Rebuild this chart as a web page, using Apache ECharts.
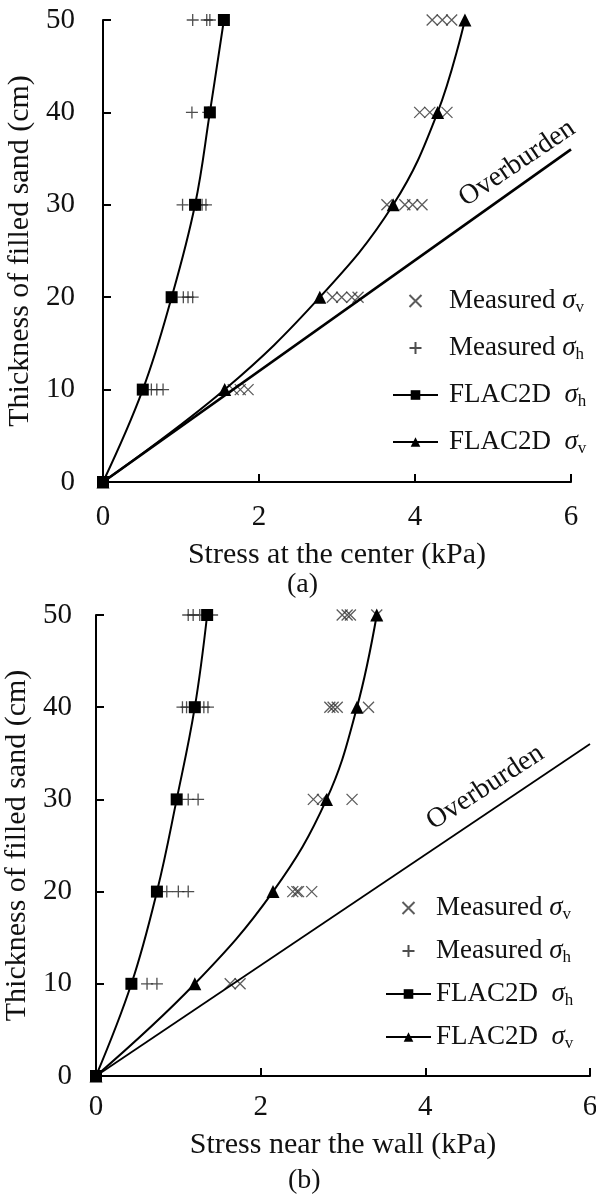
<html>
  <head>
    <meta charset="utf-8" />
    <script src="https://cdn.jsdelivr.net/npm/echarts@6/dist/echarts.min.js"></script>
  </head>
  <body>
    <style>
      html,
      body,
      #main {
        width: 100%;
        height: 100%;
        margin: 0;
        background: #fff;
      }
    </style>
    <div id="main"></div>
    <script>
      // (a) stress at the center, [stress kPa, thickness cm]
      const flacSvA = [[0, 0], [1.56, 10], [2.78, 20], [3.72, 30], [4.29, 40], [4.64, 50]];
      const flacShA = [[0, 0], [0.51, 10], [0.88, 20], [1.18, 30], [1.37, 40], [1.55, 50]];
      const measSvA = [
        [1.67, 10], [1.76, 10], [1.86, 10],
        [2.94, 20], [3.06, 20], [3.19, 20], [3.27, 20],
        [3.64, 30], [3.87, 30], [3.97, 30], [4.09, 30],
        [4.06, 40], [4.19, 40], [4.41, 40],
        [4.22, 50], [4.35, 50], [4.47, 50],
      ];
      const measShA = [
        [0.62, 10], [0.69, 10], [0.77, 10],
        [1.03, 20], [1.09, 20], [1.15, 20],
        [1.02, 30], [1.2, 30], [1.27, 30], [1.32, 30],
        [1.14, 40], [1.35, 40],
        [1.15, 50], [1.33, 50], [1.37, 50],
      ];

      // (b) stress near the wall
      const flacSvB = [[0, 0], [1.2, 10], [2.15, 20], [2.8, 30], [3.17, 40], [3.41, 50]];
      const flacShB = [[0, 0], [0.43, 10], [0.74, 20], [0.98, 30], [1.2, 40], [1.35, 50]];
      const measSvB = [
        [1.63, 10], [1.75, 10],
        [2.39, 20], [2.44, 20], [2.46, 20], [2.62, 20],
        [2.64, 30], [2.75, 30], [3.11, 30],
        [2.84, 40], [2.88, 40], [2.93, 40], [3.31, 40],
        [2.99, 50], [3.05, 50], [3.09, 50], [3.41, 50],
      ];
      const measShB = [
        [0.62, 10], [0.74, 10],
        [0.86, 20], [1.0, 20], [1.12, 20],
        [1.12, 30], [1.24, 30],
        [1.05, 40], [1.1, 40], [1.31, 40], [1.36, 40],
        [1.12, 50], [1.18, 50], [1.26, 50], [1.41, 50],
      ];

      const overburden = [[0, 0], [6, 36]];
      const xTicks = [0, 2, 4, 6];
      const yTicks = [0, 10, 20, 30, 40, 50];

      const FONT = "Liberation Serif";
      const crossPath = "path://M0,0L10,10M10,0L0,10";
      const plusPath = "path://M5,0L5,10M0,5L10,5";

      var chart = echarts.init(document.getElementById("main"));

      function xAxis(idx, name, labelMargin, nameGap) {
        return {
          type: "value",
          gridIndex: idx,
          min: xTicks[0],
          max: xTicks[xTicks.length - 1],
          interval: 2,
          name: name,
          nameLocation: "middle",
          nameGap: nameGap,
          nameTextStyle: { fontFamily: FONT, fontSize: 30, color: "#111" },
          axisLine: { show: true, lineStyle: { color: "#000", width: 2 } },
          axisTick: { show: true, inside: true, length: 8, lineStyle: { color: "#000", width: 2 } },
          axisLabel: { margin: labelMargin, fontFamily: FONT, fontSize: 29, color: "#111" },
          splitLine: { show: false },
        };
      }

      function yAxis(idx, labelMargin, nameGap) {
        return {
          type: "value",
          gridIndex: idx,
          min: yTicks[0],
          max: yTicks[yTicks.length - 1],
          interval: 10,
          name: "Thickness of filled sand (cm)",
          nameLocation: "middle",
          nameRotate: 90,
          nameGap: nameGap,
          nameTextStyle: { fontFamily: FONT, fontSize: 30, color: "#111" },
          axisLine: { show: true, lineStyle: { color: "#000", width: 2 } },
          axisTick: { show: true, inside: true, length: 8, lineStyle: { color: "#000", width: 2 } },
          axisLabel: { margin: labelMargin, fontFamily: FONT, fontSize: 29, color: "#111" },
          splitLine: { show: false },
        };
      }

      function series(idx, sv, sh, msv, msh, obWidth, obCoord, obRotate) {
        return [
          {
            name: "Overburden",
            type: "line",
            xAxisIndex: idx,
            yAxisIndex: idx,
            data: overburden,
            symbol: "none",
            silent: true,
            lineStyle: { color: "#000", width: obWidth },
            markPoint: {
              symbol: "circle",
              symbolSize: 0,
              data: [{ coord: obCoord }],
              label: {
                show: true,
                formatter: "Overburden",
                position: "inside",
                rotate: obRotate,
                fontFamily: FONT,
                fontSize: 28,
                color: "#111",
              },
            },
          },
          {
            name: "Measured σv",
            type: "scatter",
            xAxisIndex: idx,
            yAxisIndex: idx,
            data: msv,
            symbol: crossPath,
            symbolSize: 11,
            itemStyle: { color: "rgba(0,0,0,0)", borderColor: "#333", borderWidth: 1.3 },
          },
          {
            name: "Measured σh",
            type: "scatter",
            xAxisIndex: idx,
            yAxisIndex: idx,
            data: msh,
            symbol: plusPath,
            symbolSize: 12,
            itemStyle: { color: "rgba(0,0,0,0)", borderColor: "#222", borderWidth: 1.3 },
          },
          {
            name: "FLAC2D σv",
            type: "line",
            xAxisIndex: idx,
            yAxisIndex: idx,
            data: sv,
            smooth: 0.4,
            symbol: "triangle",
            symbolSize: 13,
            itemStyle: { color: "#000" },
            lineStyle: { color: "#000", width: 2 },
          },
          {
            name: "FLAC2D σh",
            type: "line",
            xAxisIndex: idx,
            yAxisIndex: idx,
            data: sh,
            smooth: 0.4,
            symbol: "rect",
            symbolSize: 12,
            itemStyle: { color: "#000" },
            lineStyle: { color: "#000", width: 2 },
          },
        ];
      }

      const legendNames = ["Measured σv", "Measured σh", "FLAC2D σh", "FLAC2D σv"];

      function legendText(name) {
        const parts = name.split(" ");
        const sub = parts[1].slice(1);
        const sep = parts[0] === "FLAC2D" ? "  " : " ";
        return parts[0] + sep + "{i|σ}{s|" + sub + "}";
      }

      function legend(left, top, gap, padLeft) {
        return {
          orient: "vertical",
          left: left,
          top: top,
          padding: 0,
          itemGap: gap,
          itemWidth: 45,
          itemHeight: 12,
          selectedMode: false,
          data: legendNames,
          formatter: legendText,
          textStyle: {
            fontFamily: FONT,
            fontSize: 27,
            color: "#111",
            lineHeight: 30,
            padding: [0, 0, 0, padLeft],
            rich: {
              i: { fontFamily: FONT, fontSize: 27, fontStyle: "italic", lineHeight: 30, color: "#111" },
              s: { fontFamily: FONT, fontSize: 17, lineHeight: 17, verticalAlign: "bottom", color: "#111" },
            },
          },
        };
      }

      var option = {
        animation: false,
        backgroundColor: "#fff",
        grid: [
          { left: 103, top: 20, width: 468, height: 462, outerBoundsMode: "none" },
          { left: 96, top: 615, width: 494, height: 461, outerBoundsMode: "none" },
        ],
        xAxis: [
          xAxis(0, "Stress at the center (kPa)", 21, 58),
          xAxis(1, "Stress near the wall (kPa)", 17, 54),
        ],
        yAxis: [yAxis(0, 28, 66), yAxis(1, 24, 59)],
        legend: [legend(392, 286, 17, 6), legend(385, 893, 13, 0)],
        graphic: [
          {
            type: "text",
            left: 287,
            top: 571,
            style: { text: "(a)", font: "28px " + FONT, fill: "#111" },
          },
          {
            type: "text",
            left: 288,
            top: 1167,
            style: { text: "(b)", font: "28px " + FONT, fill: "#111" },
          },
        ],
        series: series(0, flacSvA, flacShA, measSvA, measShA, 2.7, [5.31, 34.5], 34).concat(
          series(1, flacSvB, flacShB, measSvB, measShB, 1.8, [4.73, 31.3], 33)
        ),
      };

      chart.setOption(option);
      window.onresize = chart.resize;
    </script>
  </body>
</html>
